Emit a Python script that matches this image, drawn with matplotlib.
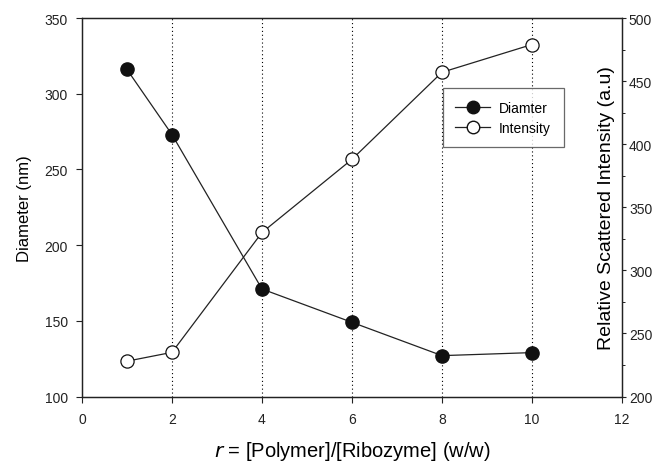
import matplotlib
matplotlib.use("Agg")
import matplotlib.pyplot as plt
from matplotlib.ticker import MultipleLocator
from matplotlib.lines import Line2D

plt.rcParams['font.family'] = ['Liberation Sans', 'DejaVu Sans']

ratio = [1, 2, 4, 6, 8, 10]
diameter = [316, 273, 171, 149, 127, 129]
intensity = [228, 235, 330, 388, 457, 479]
grid_x = [2, 4, 6, 8, 10]

fig = plt.figure(figsize=(6.57, 4.64), dpi=100)
ax = fig.add_axes([0.1248, 0.1433, 0.8219, 0.8157])
ax2 = ax.twinx()

for gx in grid_x:
    ax.axvline(gx, color='black', linestyle=(0, (1, 2.5)), linewidth=0.8, zorder=0)

ax.plot(ratio, diameter, color='#222222', linewidth=0.9, marker='o', markersize=9.5,
        markerfacecolor='#111111', markeredgecolor='#111111', zorder=3)
ax2.plot(ratio, intensity, color='#222222', linewidth=0.9, marker='o', markersize=9.5,
         markerfacecolor='white', markeredgecolor='#111111', markeredgewidth=0.9, zorder=3)

ax.set_xlim(0, 12)
ax.set_ylim(100, 350)
ax2.set_ylim(200, 500)
ax.xaxis.set_major_locator(MultipleLocator(2))
ax.yaxis.set_major_locator(MultipleLocator(50))
ax2.yaxis.set_major_locator(MultipleLocator(50))
ax2.yaxis.set_minor_locator(MultipleLocator(25))

ax.tick_params(axis='x', direction='out', labelsize=10, length=4, width=0.8, pad=7, colors='#222222')
ax.tick_params(axis='y', direction='out', labelsize=10, length=4, width=0.8, pad=6, colors='#222222')
ax2.tick_params(axis='y', which='major', direction='out', labelsize=10, length=3, width=0.8, pad=2, colors='#222222')
ax2.tick_params(axis='y', which='minor', direction='out', length=2, width=0.6)

for a in (ax, ax2):
    for s in a.spines.values():
        s.set_linewidth(0.9)
        s.set_color('#222222')

ax.set_ylabel('Diameter (nm)', fontsize=12)
ax.yaxis.set_label_coords(-0.0926, 0.5)
ax2.set_ylabel('Relative Scattered Intensity (a.u)', fontsize=14)
ax2.yaxis.set_label_coords(0.9556, 0.5)
ax.set_xlabel('$r$ = [Polymer]/[Ribozyme] (w/w)', fontsize=14.5)
ax.xaxis.set_label_coords(0.5, -0.112)

handles = [
    Line2D([], [], color='#222222', linewidth=0.9, marker='o', markersize=9,
           markerfacecolor='#111111', markeredgecolor='#111111'),
    Line2D([], [], color='#222222', linewidth=0.9, marker='o', markersize=9,
           markerfacecolor='white', markeredgecolor='#111111'),
]
leg = ax2.legend(handles, ['Diamter', 'Intensity'], loc='upper left',
                 bbox_to_anchor=(0.6685, 0.815), fontsize=10, frameon=True,
                 fancybox=False, edgecolor='#444444', handlelength=2.5,
                 borderpad=0.9, labelspacing=0.45, handletextpad=0.65,
                 borderaxespad=0)
leg.get_frame().set_linewidth(0.9)

fig.savefig('out.png', dpi=100)
